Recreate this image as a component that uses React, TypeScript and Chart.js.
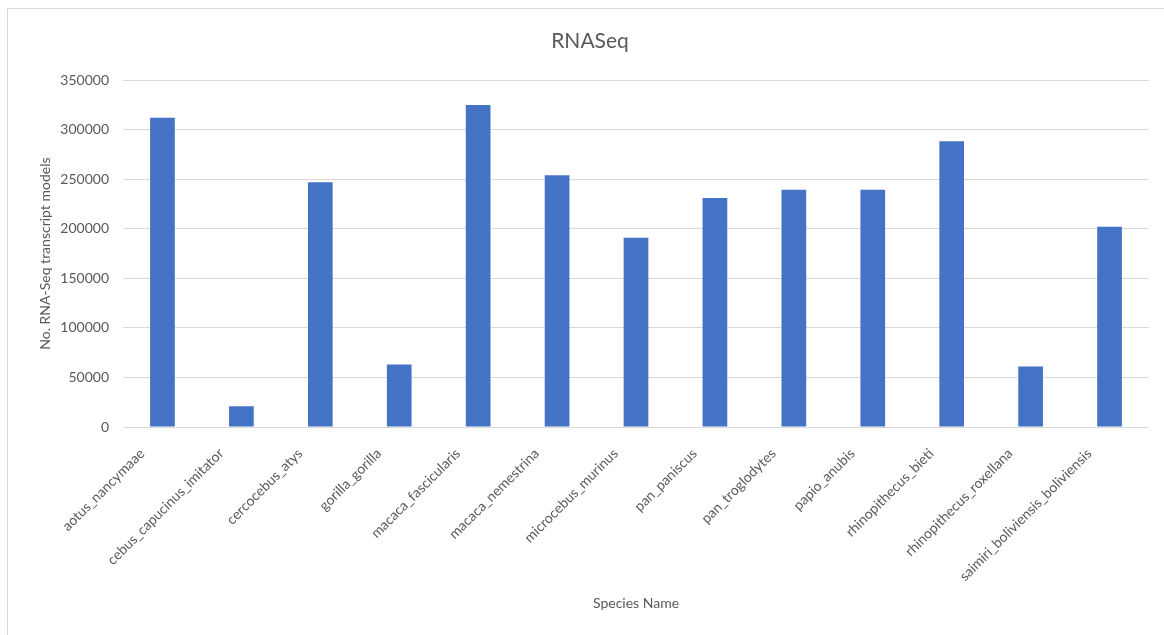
import React, { useEffect, useRef } from "react";
import { Chart, registerables } from "chart.js";

Chart.register(...registerables);

const species = [
  "aotus_nancymaae",
  "cebus_capucinus_imitator",
  "cercocebus_atys",
  "gorilla_gorilla",
  "macaca_fascicularis",
  "macaca_nemestrina",
  "microcebus_murinus",
  "pan_paniscus",
  "pan_troglodytes",
  "papio_anubis",
  "rhinopithecus_bieti",
  "rhinopithecus_roxellana",
  "saimiri_boliviensis_boliviensis",
];

const transcriptModels = [
  312000, 21000, 247000, 63000, 325000, 254000, 191000, 231000, 239500, 239500,
  288500, 61000, 202000,
];

const chartTitle = "RNASeq";
const yAxisTitle = "No. RNA-Seq transcript models";
const xAxisTitle = "Species Name";
const yMin = 0;
const yMax = 350000;
const yStep = 50000;

const FONT = "Lato, 'Open Sans', sans-serif";
const TEXT = "#595959";
const GRID = "#d9d9d9";
const BAR = "#4472C4";

export default function App() {
  const ref = useRef<HTMLCanvasElement | null>(null);

  useEffect(() => {
    if (!ref.current) return;
    const chart = new Chart(ref.current, {
      type: "bar",
      data: {
        labels: species,
        datasets: [
          {
            label: yAxisTitle,
            data: transcriptModels,
            backgroundColor: BAR,
            borderWidth: 0,
            categoryPercentage: 1,
            barPercentage: 0.313,
          },
        ],
      },
      options: {
        responsive: false,
        animation: false,
        layout: { padding: { left: 31, right: 15, top: 0, bottom: 0 } },
        plugins: {
          legend: { display: false },
          tooltip: { enabled: false },
          title: {
            display: true,
            text: chartTitle,
            color: TEXT,
            font: { family: FONT, size: 21, weight: "normal" },
            padding: { top: 29, bottom: 26 },
          },
        },
        scales: {
          x: {
            grid: { display: false },
            border: { display: false },
            ticks: {
              color: TEXT,
              font: { family: FONT, size: 14 },
              maxRotation: 45,
              minRotation: 45,
              autoSkip: false,
              padding: -10,
              callback: function (this: any, value: any) {
                return this.getLabelForValue(value) + "\u00a0\u00a0\u00a0\u00a0\u00a0\u00a0\u00a0\u00a0";
              },
            },
            title: {
              display: true,
              text: xAxisTitle,
              color: TEXT,
              font: { family: FONT, size: 14 },
              padding: { top: 4, bottom: 23 },
            },
            afterFit: (scale: any) => {
              scale.height = 208;
            },
          },
          y: {
            min: yMin,
            max: yMax,
            grid: { color: GRID, lineWidth: 1, drawTicks: false },
            border: { display: false },
            ticks: {
              stepSize: yStep,
              color: TEXT,
              font: { family: FONT, size: 14 },
              padding: 14,
              callback: (v: any) => String(v),
            },
            title: {
              display: true,
              text: yAxisTitle,
              color: TEXT,
              font: { family: FONT, size: 14 },
              padding: { top: 6, bottom: 4 },
            },
            afterFit: (scale: any) => {
              scale.width = 92;
            },
          },
        },
      },
    });
    return () => chart.destroy();
  }, []);

  return (
    <div
      style={{
        position: "fixed",
        left: 0,
        top: 0,
        width: 1164,
        height: 635,
        background: "#fff",
        overflow: "hidden",
      }}
    >
      <div
        style={{
          position: "absolute",
          left: 7,
          top: 8,
          width: 1200,
          height: 700,
          borderTop: "1px solid #d9d9d9",
          borderLeft: "1px solid #d9d9d9",
        }}
      />
      <canvas
        ref={ref}
        width={1164}
        height={635}
        style={{ position: "absolute", left: 0, top: 0 }}
      />
    </div>
  );
}
